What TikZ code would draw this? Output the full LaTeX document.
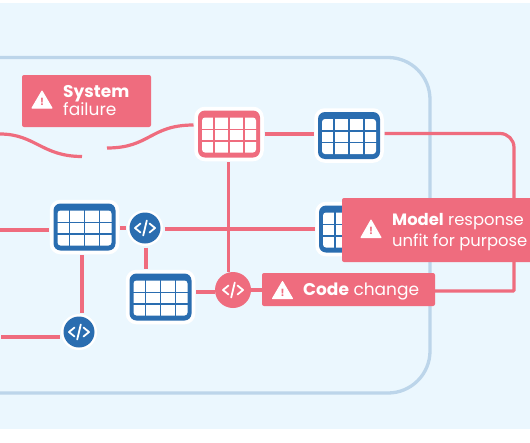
\documentclass[tikz,border=0pt]{standalone}
\usepackage{fontspec}
\setmainfont{Poppins}
\usetikzlibrary{calc}
\definecolor{alertpink}{HTML}{EF6C7E}
\definecolor{tblblue}{HTML}{2A6DB0}
\definecolor{framblue}{HTML}{BCD5EA}
\definecolor{pagebg}{HTML}{EBF7FE}

\begin{document}
\begin{tikzpicture}[
    x=1pt, y=-1pt,
    wire/.style={alertpink, line width=3.2pt},
    frameline/.style={framblue, line width=3.3pt, rounded corners=42pt},
    alertbox/.style={fill=alertpink, rounded corners=2pt, inner sep=0pt},
    alerttxt/.style={anchor=west, align=left, inner sep=0pt, text=white, font=\fontsize{17}{18}\selectfont},
    tbl/.style={
      fill=#1, rounded corners=7pt, minimum width=62pt, minimum height=47pt, inner sep=0pt, outer sep=4.5pt,
      preaction={draw=white, line width=7.5pt},
      path picture={
        \fill[white, rounded corners=3pt] ($(path picture bounding box.center)+(-27,-16.5)$) rectangle ($(path picture bounding box.center)+(27,18.5)$);
        \foreach \dx in {-15,0,15}
          \draw[#1, line width=1.4pt] ($(path picture bounding box.center)+(\dx,-17)$) -- ($(path picture bounding box.center)+(\dx,19)$);
        \foreach \dy in {-4.5,7}
          \draw[#1, line width=1.4pt] ($(path picture bounding box.center)+(-28,\dy)$) -- ($(path picture bounding box.center)+(28,\dy)$);
      }},
    codeicon/.style={
      circle, fill=#1, inner sep=0pt,
      path picture={
        \draw[white, line width=1.8pt, line cap=round, line join=round]
          ($(path picture bounding box.center)+(-4.5,-4.5)$) -- ++(-5.5,4.5) -- ++(5.5,4.5)
          ($(path picture bounding box.center)+(4.5,-4.5)$) -- ++(5.5,4.5) -- ++(-5.5,4.5)
          ($(path picture bounding box.center)+(1.8,-7.5)$) -- ($(path picture bounding box.center)+(-1.8,7.5)$);
      }},
    codeblue/.style={codeicon=tblblue, minimum size=31pt, outer sep=4pt, preaction={draw=white, line width=5pt}},
    codepink/.style={codeicon=alertpink, minimum size=36pt, outer sep=0pt}
  ]
  \fill[pagebg] (0,3) rectangle (530,429);
  \useasboundingbox (0,0) rectangle (530,442);

  % frame, open on the left
  \coordinate (frameA) at (0,57.5);
  \coordinate (frameB) at (430,57.5);
  \coordinate (frameC) at (430,393);
  \coordinate (frameD) at (0,393);
  \draw[frameline] (frameA) -- (frameB) -- (frameC) -- (frameD);

  \node[tbl=alertpink] (Tfail) at (229,134) {};
  \node[tbl=tblblue] (Ttop) at (349,135.5) {};
  \node[tbl=tblblue] (Tleft) at (84.5,227) {};
  \node[tbl=tblblue] (Tlow) at (160.5,297) {};
  \node[tbl=tblblue] (Tright) at (350,229) {};
  \node[codeblue] (Cmid) at (145,228) {};
  \node[codeblue] (Cbot) at (79,332) {};
  \node[codepink] (Cfail) at (233,290) {};

  \node[alertbox, minimum width=129pt, minimum height=52pt] (Bsys) at (86.5,101) {};
  \node[alertbox, minimum width=173pt, minimum height=33pt] (Bcode) at (348.5,289.5) {};

  % broken line into the failed table
  \coordinate (waveA) at (0,134);
  \coordinate (waveB) at (82,156.5);
  \coordinate (waveC) at (107,148);
  \draw[wire] (waveA) .. controls (35,134) and (42,156.5) .. (waveB);
  \draw[wire] (waveC) .. controls (150,148) and (150,125) .. (Tfail.west |- 0,125);

  \draw[wire] (Tfail.east) -- (Tfail.east -| Ttop.west);
  \coordinate (turnA) at (514,133.5);
  \coordinate (turnB) at (514,291);
  \draw[wire, rounded corners=14pt] (Ttop.east |- turnA) -- (turnA) -- (turnB |- 0,210);
  \draw[wire, rounded corners=1pt] (turnB |- 0,205) -- (turnB) -- (Bcode.east |- turnB);

  \coordinate (leftA) at (0,230);
  \draw[wire] (leftA) -- (Tleft.west |- leftA);
  \draw[wire] (Tleft.east |- Cmid) -- (Cmid.west);
  \draw[wire] (Cmid.east |- 0,229) -- (Tright.west |- 0,229);
  \draw[wire] (Tfail.south -| 228.5,0) -- (Cfail.north -| 228.5,0);
  \draw[wire] (Cmid.south -| 146,0) -- (Tlow.north -| 146,0);
  \draw[wire] (Tlow.east |- 0,292) -- (Cfail.west |- 0,292);
  \draw[wire] (Cfail.east) -- (Bcode.west |- Cfail);
  \draw[wire] (Tleft.south -| 82,0) -- (Cbot.north -| 82,0);
  \coordinate (botA) at (1,337);
  \draw[wire] (botA) -- (Cbot.west |- botA);

  \node[alertbox, minimum width=200pt, minimum height=64pt] (Bmodel) at (442,230) {};

  \clip (0,0) rectangle (530,442);
  \fill[white, draw=white, line width=1pt, line join=round] (42,91) -- (52,108) -- (32,108) -- cycle;
  \node[inner sep=0pt, text=alertpink, font=\bfseries\fontsize{10}{10}\selectfont] (Wsys) at (42,102) {!};
  \fill[white, draw=white, line width=1pt, line join=round] (371,220) -- (381,237.5) -- (361,237.5) -- cycle;
  \node[inner sep=0pt, text=alertpink, font=\bfseries\fontsize{10}{10}\selectfont] (Wmodel) at (371,231) {!};
  \fill[white, draw=white, line width=1pt, line join=round] (282.5,281.5) -- (292.5,298.5) -- (272.5,298.5) -- cycle;
  \node[inner sep=0pt, text=alertpink, font=\bfseries\fontsize{10}{10}\selectfont] (Wcode) at (282.5,293) {!};

  \node[alerttxt] (Lsys) at (63,100.5) {\textbf{System}\\failure};
  \node[alerttxt, font=\fontsize{16.4}{21.5}\selectfont] (Lmodel) at (392,232) {\textbf{Model} response\\unfit for purpose};
  \node[alerttxt] (Lcode) at (303,291.5) {\textbf{Code} change};
\end{tikzpicture}
\end{document}
